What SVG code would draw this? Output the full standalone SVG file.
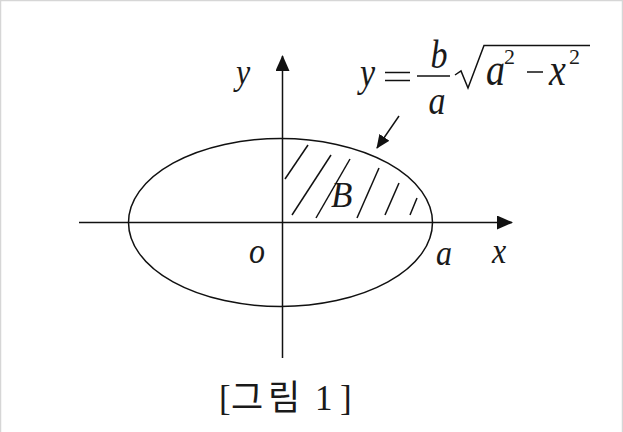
<svg xmlns="http://www.w3.org/2000/svg" width="623" height="432" viewBox="0 0 623 432">
<style>
.ln{stroke:#111;stroke-width:1.5;fill:none}
.m{font-family:"Liberation Serif","Times New Roman",serif;font-style:italic;fill:#1a1a1a}
.n{font-family:"Liberation Serif","Times New Roman",serif;fill:#1a1a1a}
.cap{font-family:"Liberation Serif","Noto Sans CJK KR",serif;font-size:35px;fill:#1a1a1a}
</style>
<defs>
<marker id="ah" viewBox="0 0 16 14" refX="15" refY="7" markerWidth="16" markerHeight="14" markerUnits="userSpaceOnUse" orient="auto">
<path d="M0,0 L16,7 L0,14 Z" fill="#111"/>
</marker>
<marker id="ah2" viewBox="0 0 14 12" refX="13" refY="6" markerWidth="14" markerHeight="12" markerUnits="userSpaceOnUse" orient="auto">
<path d="M0,0 L14,6 L0,12 Z" fill="#111"/>
</marker>
</defs>
<rect width="623" height="432" fill="#fff"/>
<path d="M0.5,432 V0.5 H622.5 V432" fill="none" stroke="#d6d6d6" stroke-width="1.5"/>

<g id="connectors">
<line class="ln" x1="79" y1="222.5" x2="512" y2="222.5" marker-end="url(#ah)"/>
<line class="ln" x1="282.5" y1="358" x2="282.5" y2="56" marker-end="url(#ah)"/>
<line class="ln" x1="399" y1="116" x2="377" y2="148" marker-end="url(#ah2)"/>
</g>

<g id="ellipse">
<ellipse class="ln" cx="280.5" cy="222.5" rx="152" ry="84" stroke-width="1.3"/>
</g>

<g id="region-B">
<g class="ln" stroke-width="1.1">
<line x1="285" y1="179" x2="308" y2="145"/>
<line x1="292" y1="215" x2="331" y2="155"/>
<line x1="316" y1="218" x2="350" y2="159"/>
<line x1="357" y1="218" x2="379" y2="168"/>
<line x1="385" y1="215" x2="399" y2="183"/>
<line x1="410" y1="215" x2="417" y2="198"/>
</g>
<text class="m" x="331" y="207" font-size="35">B</text>
</g>

<g id="axis-labels">
<text class="m" font-size="32" transform="translate(236,84) scale(1,1.15)">y</text>
<text class="m" font-size="32" transform="translate(492,263) scale(1,1.15)">x</text>
<text class="m" font-size="32" transform="translate(249,263) scale(1,1.15)">o</text>
<text class="m" font-size="32" transform="translate(436,265) scale(1,1.15)">a</text>
</g>

<g id="formula">
<text class="m" font-size="34" transform="translate(360,86) scale(1,1.2)">y</text>
<line class="ln" x1="385" y1="72.5" x2="410" y2="72.5" stroke-width="2"/>
<line class="ln" x1="385" y1="80.5" x2="410" y2="80.5" stroke-width="2"/>
<line class="ln" x1="417" y1="76" x2="450" y2="76" stroke-width="1.6"/>
<text class="m" font-size="34" text-anchor="middle" transform="translate(439,68) scale(1,1.2)">b</text>
<text class="m" font-size="34" text-anchor="middle" transform="translate(437,114) scale(1,1.2)">a</text>
<path class="ln" d="M455,75 L461,71 L468,88 L484,45.5 H590" stroke-width="1.6"/>
<text class="m" font-size="38" transform="translate(486,85) scale(1,1.2)">a</text>
<text class="n" font-size="22" x="504" y="64">2</text>
<line class="ln" x1="527" y1="72" x2="543" y2="72" stroke-width="1.6"/>
<text class="m" font-size="38" transform="translate(549,85) scale(1,1.2)">x</text>
<text class="n" font-size="22" x="569" y="64">2</text>
</g>

<g id="caption">
<text class="cap" x="219 231 268 305 315 340" y="410">[그림 1]</text>
</g>
</svg>
